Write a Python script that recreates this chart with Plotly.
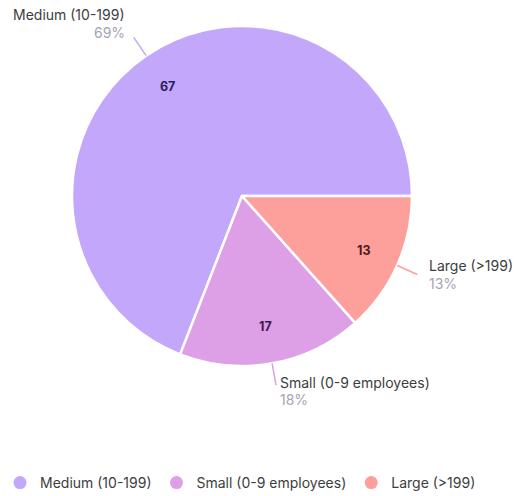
import math
import plotly.graph_objects as go

# Company size breakdown
categories = ["Medium (10-199)", "Small (0-9 employees)", "Large (>199)"]
values = [67, 17, 13]
slice_colors = ["#c3a7fb", "#dd9fe5", "#fd9f9b"]
value_colors = ["#2b1d5a", "#3b1a4e", "#4a1a1c"]

W, H = 514, 496
CX, CY, R = 242, 196, 170  # pie centre and radius in pixels
FONT = "Inter"
FS = 14

total = sum(values)


def to_paper(px, py):
    return px / W, 1 - py / H


fig = go.Figure()

# first slice begins at 3 o'clock and the slices run counterclockwise
rotation = (90 - 360 * values[0] / total) % 360

fig.add_trace(go.Pie(
    labels=categories,
    values=values,
    sort=False,
    direction="counterclockwise",
    rotation=rotation,
    marker=dict(colors=slice_colors, line=dict(color="white", width=2.5)),
    textinfo="none",
    hoverinfo="label+value+percent",
    showlegend=False,
    domain=dict(x=[(CX - R) / W, (CX + R) / W], y=[1 - (CY + R) / H, 1 - (CY - R) / H]),
))

# Legend entries with round markers
for name, col in zip(categories, slice_colors):
    fig.add_trace(go.Scatter(
        x=[None], y=[None], mode="markers", name=name,
        marker=dict(color=col, size=13, symbol="circle"),
        showlegend=True, hoverinfo="skip",
    ))

annotations = []
shapes = []
cum = 0
for name, v, col, vcol in zip(categories, values, slice_colors, value_colors):
    mid = 2 * math.pi * (cum + v / 2) / total
    cum += v
    c, s = math.cos(mid), math.sin(mid)

    # value inside the slice
    ix, iy = to_paper(CX + 0.78 * R * c, CY - 0.78 * R * s)
    annotations.append(dict(
        x=ix, y=iy, xref="paper", yref="paper", text=f"<b>{v}</b>",
        showarrow=False, xanchor="center", yanchor="middle",
        font=dict(family=FONT, size=12.5, color=vcol),
    ))

    # leader line
    x0, y0 = to_paper(CX + R * c, CY - R * s)
    r_end = 1.13 * R
    x1, y1 = to_paper(CX + r_end * c, CY - r_end * s)
    shapes.append(dict(type="line", xref="paper", yref="paper",
                       x0=x0, y0=y0, x1=x1, y1=y1,
                       line=dict(color=col, width=1.5)))

    # outside label: name above, share below, just past the leader line
    pct = round(100 * v / total)
    r_lab = r_end + 11
    lx, ly = to_paper(CX + r_lab * c, CY - r_lab * s)
    side = "right" if c < -0.1 else "left"
    annotations.append(dict(
        x=lx, y=ly, xref="paper", yref="paper", text=name,
        showarrow=False, xanchor=side, yanchor="middle", yshift=13.5,
        font=dict(family=FONT, size=FS, color="#3d3d3d"),
    ))
    annotations.append(dict(
        x=lx, y=ly, xref="paper", yref="paper", text=f"{pct}%",
        showarrow=False, xanchor=side, yanchor="middle", yshift=-4,
        font=dict(family=FONT, size=FS, color="#a4a4b4"),
    ))

fig.update_layout(
    width=W, height=H,
    margin=dict(l=0, r=0, t=0, b=0, autoexpand=False),
    paper_bgcolor="white", plot_bgcolor="white",
    xaxis=dict(visible=False), yaxis=dict(visible=False),
    annotations=annotations, shapes=shapes,
    legend=dict(orientation="h", x=0, xanchor="left",
                y=1 - 483 / H, yanchor="middle",
                font=dict(family=FONT, size=FS, color="#3d3d3d"),
                itemclick=False),
    font=dict(family=FONT),
)

fig.write_html("out.html")
